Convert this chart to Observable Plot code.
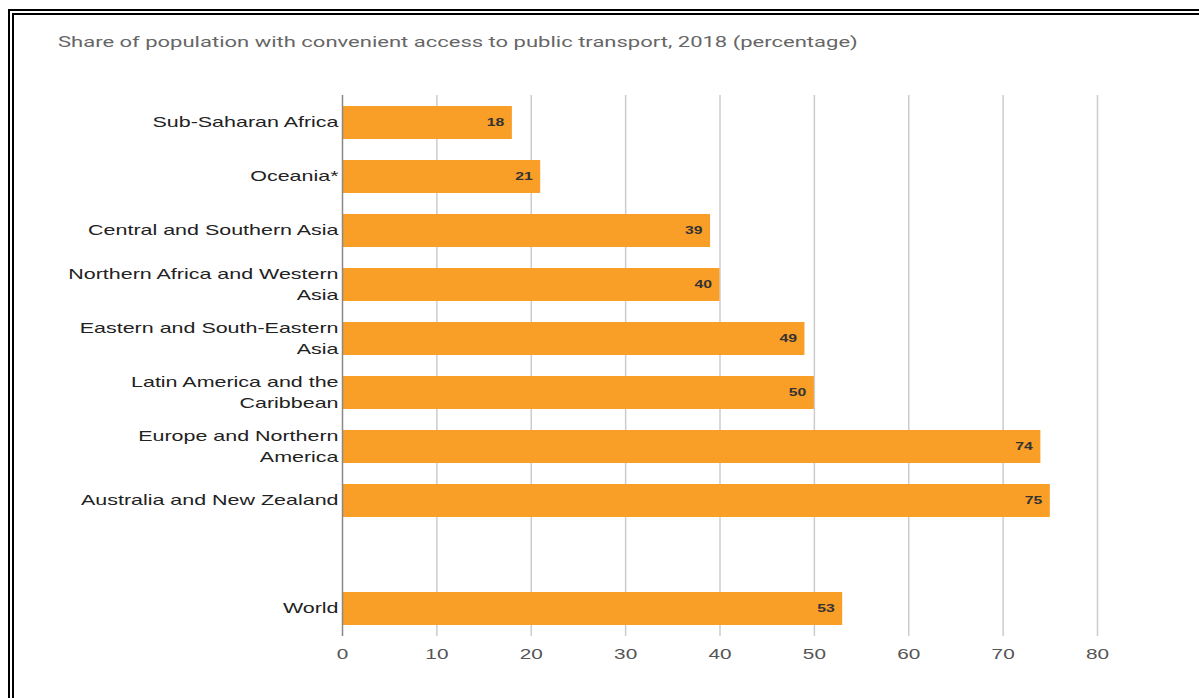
<!DOCTYPE html>
<html>
<head>
<meta charset="utf-8">
<script src="https://cdn.jsdelivr.net/npm/d3@7"></script>
<script src="https://cdn.jsdelivr.net/npm/@observablehq/plot@0.6"></script>
<style>
  html, body { margin: 0; padding: 0; background: #fff; overflow: hidden; width: 1199px; height: 698px; }
  #frame { position: absolute; left: 8px; top: 9px; width: 1240px; height: 760px; border: 6px double #000; box-sizing: border-box; pointer-events: none; }
  #wrap { position: absolute; left: 0; top: 0; width: 1199px; }
  #title { height: 80px; box-sizing: border-box; padding: 33px 0 0 58px; font-family: Roboto, "Liberation Sans", sans-serif; font-size: 15.5px; color: #666; white-space: nowrap; }
  #title span { display: inline-block; transform: scaleX(1.42); transform-origin: left center; }
</style>
</head>
<body>
<div id="wrap">
  <div id="title"><span>Share of population with convenient access to public transport, 2018 (percentage)</span></div>
  <div id="chart"></div>
</div>
<div id="frame"></div>
<script>
const regions = [
  "Sub-Saharan Africa",
  "Oceania*",
  "Central and Southern Asia",
  "Northern Africa and Western Asia",
  "Eastern and South-Eastern Asia",
  "Latin America and the Caribbean",
  "Europe and Northern America",
  "Australia and New Zealand",
  "World"
];
const values = [18, 21, 39, 40, 49, 50, 74, 75, 53];
const wrappedLabels = [
  "Sub-Saharan Africa",
  "Oceania*",
  "Central and Southern Asia",
  "Northern Africa and Western\nAsia",
  "Eastern and South-Eastern\nAsia",
  "Latin America and the\nCaribbean",
  "Europe and Northern\nAmerica",
  "Australia and New Zealand",
  "World"
];
const xTicks = [0, 10, 20, 30, 40, 50, 60, 70, 80];

const gap = " ";
const domain = [...regions.slice(0, 8), gap, regions[8]];
const data = regions.map((r, i) => ({region: r, value: values[i]}));
const labelOf = new Map(regions.map((r, i) => [r, wrappedLabels[i]]));

const chart = Plot.plot({
  width: 1199,
  height: 618,
  marginTop: 15,
  marginBottom: 62,
  marginLeft: 342,
  marginRight: 102,
  style: {fontFamily: "'Liberation Sans', Arial, sans-serif", background: "#fff"},
  x: {domain: [0, 80], ticks: xTicks},
  y: {domain, padding: 0.39, paddingOuter: 0.195},
  marks: [
    Plot.gridX(xTicks.slice(1), {stroke: "#ccc", strokeOpacity: 1, strokeWidth: 1.5}),
    Plot.barX(data, {y: "region", x: "value", fill: "#f99e27"}),
    Plot.ruleX([0], {stroke: "#888", strokeWidth: 1.5}),
    Plot.text(data, {y: "region", x: "value", text: d => String(d.value), textAnchor: "end", dx: -8, dy: -1, fontSize: 11, fill: "#333", fontWeight: 600}),
    Plot.axisY({tickSize: 0, tickPadding: 4, fontSize: 15, fill: "#222", lineHeight: 1.35, dy: -2, label: null,
      tickFormat: d => d === gap ? "" : labelOf.get(d)}),
    Plot.axisX({ticks: xTicks, tickSize: 0, tickPadding: 12, fontSize: 14.5, fill: "#555", label: null})
  ]
});
document.getElementById("chart").appendChild(chart);

// the reference is horizontally stretched: widen every glyph run
const STRETCH = 1.43;
chart.querySelectorAll("text").forEach(t => {
  const spans = t.querySelectorAll("tspan");
  const runs = spans.length ? Array.from(spans) : [t];
  runs.forEach(r => {
    if (!r.textContent) return;
    const len = r.getComputedTextLength();
    if (len > 0) {
      r.setAttribute("textLength", (len * STRETCH).toFixed(2));
      r.setAttribute("lengthAdjust", "spacingAndGlyphs");
    }
  });
});
</script>
</body>
</html>
